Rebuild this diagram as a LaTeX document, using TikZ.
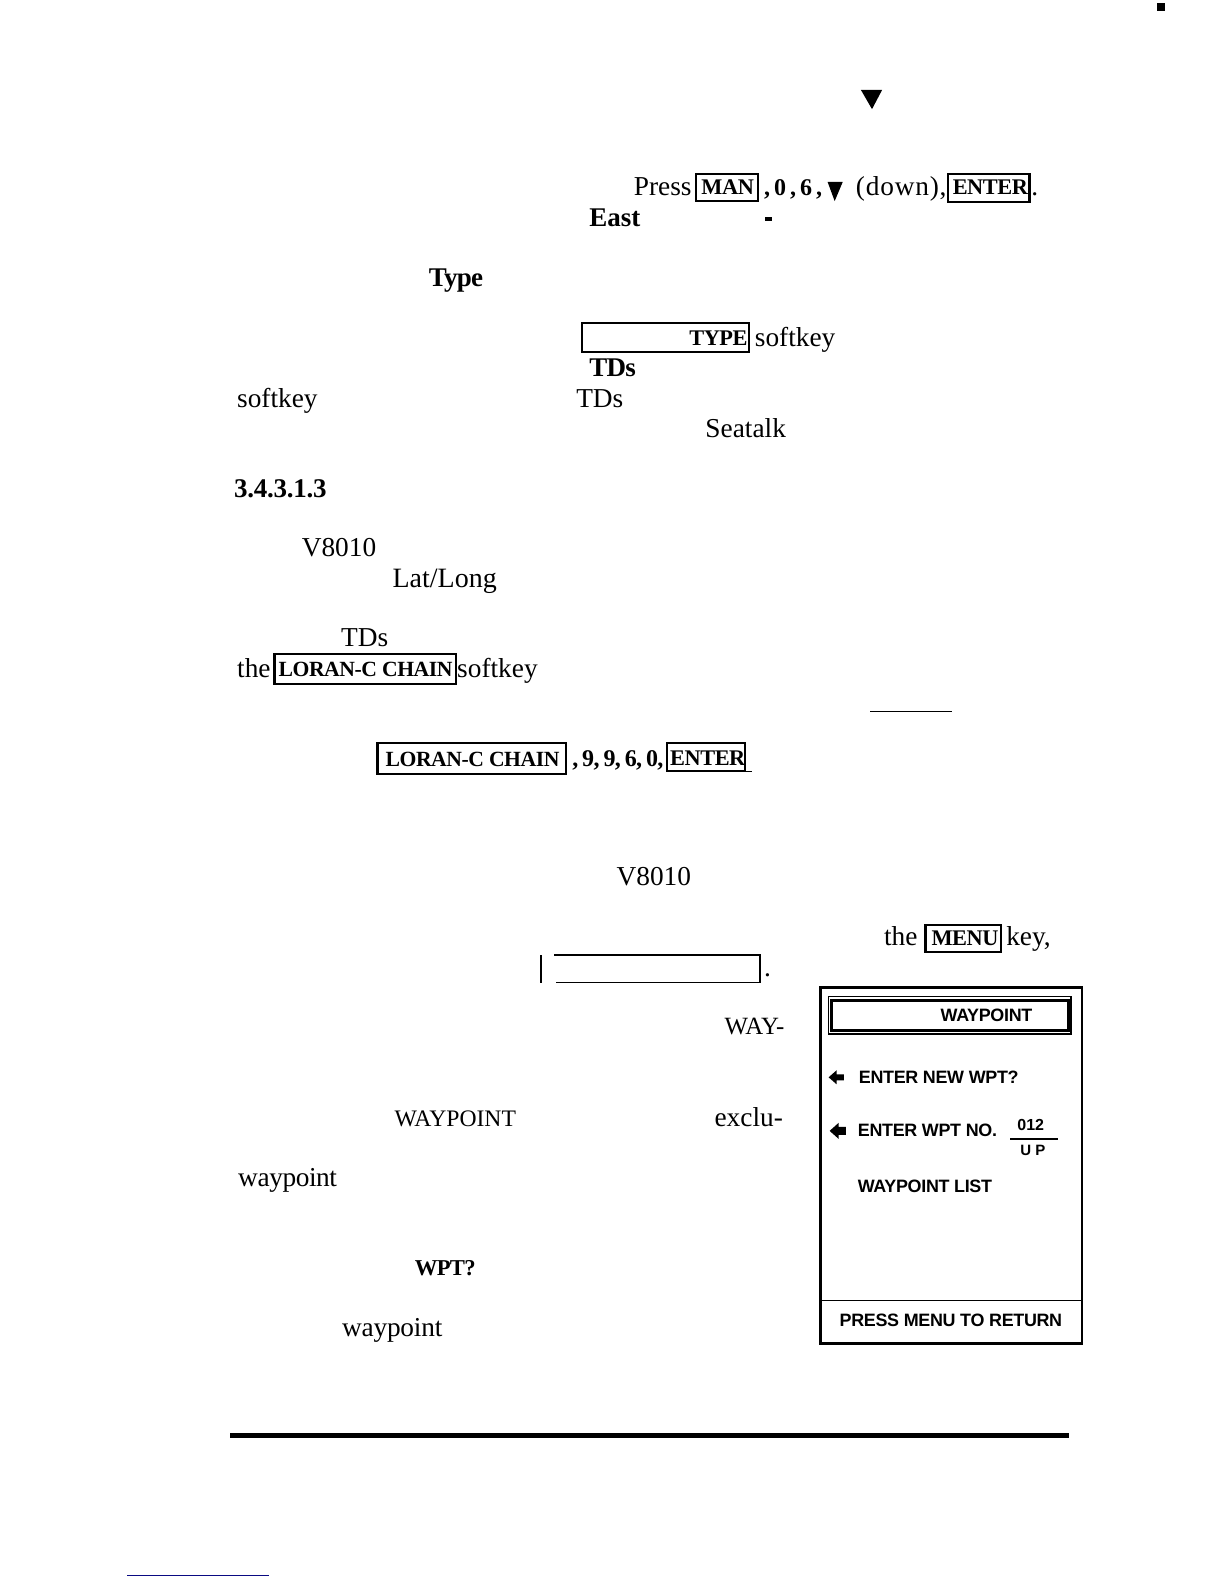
\documentclass[tikz,border=0pt]{standalone}
\usepackage{fontspec}
\setmainfont{Liberation Serif}
\newfontfamily\panelfont{Liberation Sans}
\definecolor{scanblue}{RGB}{10,10,130}
\tikzset{
  txt/.style={anchor=base west,inner sep=0pt,outer sep=0pt,font=\fontsize{16.4}{18}\selectfont},
  captxt/.style={txt,font=\fontsize{14.2}{16}\selectfont},
  btxt/.style={txt,font=\fontsize{16.2}{18}\selectfont\bfseries\addfontfeature{LetterSpace=-3}},
  numtxt/.style={txt,font=\fontsize{14.4}{16}\selectfont\bfseries\addfontfeature{LetterSpace=-3}},
  keytxt/.style={txt,font=\fontsize{13.4}{16}\selectfont\bfseries\addfontfeature{LetterSpace=-2}},
  lortxt/.style={txt,font=\fontsize{13}{16}\selectfont\bfseries\addfontfeature{LetterSpace=-2}},
  ptxt/.style={anchor=base west,inner sep=0pt,outer sep=0pt,font=\panelfont\fontsize{10.75}{13}\selectfont\bfseries\addfontfeature{LetterSpace=-1.8}},
  psmall/.style={ptxt,font=\panelfont\fontsize{9.6}{11}\selectfont\bfseries},
  keybox/.style={draw=black,line width=1.3pt},
  thinbox/.style={draw=black,line width=0.7pt},
  panelline/.style={draw=black,line width=1.4pt},
  tri/.style={fill=black,draw=none},
}
\begin{document}
\begin{tikzpicture}[x=0.6056pt,y=-0.6064pt]
\useasboundingbox (0,0) rectangle (1212.7,1567.4);
% top marks
\fill (1146,3) rectangle (1154,11);
\fill[tri] (853,89) -- (874,89) -- (864,108) -- cycle;
% press line
\node[txt] (press) at (628,193.5) {Press};
\draw[keybox] (690,172) rectangle (751,199);
\node[keytxt] (man) at (695,192.5) {MAN};
\node[numtxt] (c0) at (757,193.5) {,\,0\,,\,6\,,};
\fill[tri] (820,180) -- (835,180) -- (827,199) -- cycle;
\node[txt,font=\fontsize{16.4}{18}\selectfont\addfontfeature{LetterSpace=3}] (down) at (848,193.5) {(down),};
\draw[keybox] (939,172) rectangle (1020,200);
\node[keytxt] (enter1) at (944,192.5) {ENTER};
\node[txt] (dot1) at (1022,193.5) {.};
\node[btxt,font=\fontsize{16.2}{18}\selectfont\bfseries] (east) at (584,224) {East};
\fill (758,215) rectangle (765,219);
\node[btxt] (type) at (425,283) {Type};
% type softkey
\draw[keybox] (577,320) rectangle (742,348);
\node[keytxt] (typek) at (683,342) {TYPE};
\node[txt] (soft1) at (748,343) {softkey};
\node[btxt] (tds1) at (584,373) {TDs};
\node[txt] (soft2) at (235,403) {softkey};
\node[txt] (tds2) at (571,403) {TDs};
\node[txt] (seatalk) at (699,433) {Seatalk};
% section
\node[btxt,font=\fontsize{16.2}{18}\selectfont\bfseries\addfontfeature{LetterSpace=-1}] (sec) at (232,492) {3.4.3.1.3};
\node[txt] (v1) at (299,551) {V8010};
\node[txt,font=\fontsize{16.8}{18}\selectfont] (latlong) at (389,581) {Lat/Long};
\node[txt] (tds3) at (338,640) {TDs};
\node[txt] (the1) at (235,670) {the};
\draw[keybox] (272,647) rectangle (452,677);
\node[lortxt] (lor1) at (276,669) {LORAN-C CHAIN};
\node[txt] (soft3) at (453,670) {softkey};
\draw[thinbox,line width=1pt] (862,704) -- (943,704);
\draw[keybox] (374,735) rectangle (561,766);
\node[lortxt] (lor2) at (382,758) {LORAN-C CHAIN};
\node[numtxt] (nums) at (567,758) {,\,9,\,9,\,6,\,0,};
\draw[keybox] (661,735) rectangle (738,763);
\node[keytxt] (enter2) at (664,757) {ENTER};
\draw[thinbox] (738,763.5) -- (745,763.5);
% V8010 paragraph
\node[txt] (v2) at (611,876) {V8010};
\node[txt] (the2) at (876,936) {the};
\draw[keybox] (917,915) rectangle (992,942);
\node[keytxt] (menu) at (923,936) {MENU};
\node[txt] (key) at (997,936) {key,};
% empty box
\draw[draw=black,line width=1.2pt] (536,945) -- (536,973);
\draw[thinbox] (549,945) -- (753,945) -- (753,972) -- (551,972);
\node[txt] (dot2) at (757,966) {.};
\node[captxt,font=\fontsize{14.9}{16}\selectfont] (way) at (718,1024) {WAY-};
\node[captxt] (wp1) at (391,1115) {WAYPOINT};
\node[txt] (exclu) at (708,1115) {exclu-};
\node[txt,font=\fontsize{16.4}{18}\selectfont\addfontfeature{LetterSpace=-1.5}] (wp2) at (236,1174) {waypoint};
\node[numtxt,font=\fontsize{13.6}{16}\selectfont\bfseries\addfontfeature{LetterSpace=-3}] (wpt) at (411,1262) {WPT?};
\node[txt,font=\fontsize{16.4}{18}\selectfont\addfontfeature{LetterSpace=-0.8}] (wp3) at (339,1322) {waypoint};
% panel
\draw[panelline] (813,977) rectangle (1072,1329.5);
\draw[panelline,line width=0.8pt] (813,1287) -- (1072,1287);
\draw[panelline,line width=0.8pt] (821,986) rectangle (1061,1023);
\draw[panelline,line width=1.6pt] (824,990) rectangle (1059,1020);
\node[ptxt] (pwp) at (932,1011) {WAYPOINT};
\fill[tri] (821,1066) -- (829,1059) -- (829,1063) -- (836,1063) -- (836,1069) -- (829,1069) -- (829,1073) -- cycle;
\node[ptxt] (pnew) at (851,1072) {ENTER NEW WPT?};
\fill[tri] (822,1119) -- (831,1111) -- (831,1115) -- (838,1115) -- (838,1123) -- (831,1123) -- (831,1127) -- cycle;
\node[ptxt] (pno) at (850,1125) {ENTER WPT NO.};
\node[psmall] (p012) at (1008,1119) {012};
\draw[thinbox] (1001,1127) -- (1048,1127);
\node[psmall,font=\panelfont\fontsize{9}{11}\selectfont\bfseries] (pup) at (1011,1143) {U P};
\node[ptxt] (plist) at (850,1180) {WAYPOINT LIST};
\node[ptxt] (pret) at (832,1313) {PRESS MENU TO RETURN};
% rules
\fill (228,1418) rectangle (1059,1423);
\draw[scanblue,line width=0.6pt] (126,1559) -- (267,1559);
\end{tikzpicture}
\end{document}
